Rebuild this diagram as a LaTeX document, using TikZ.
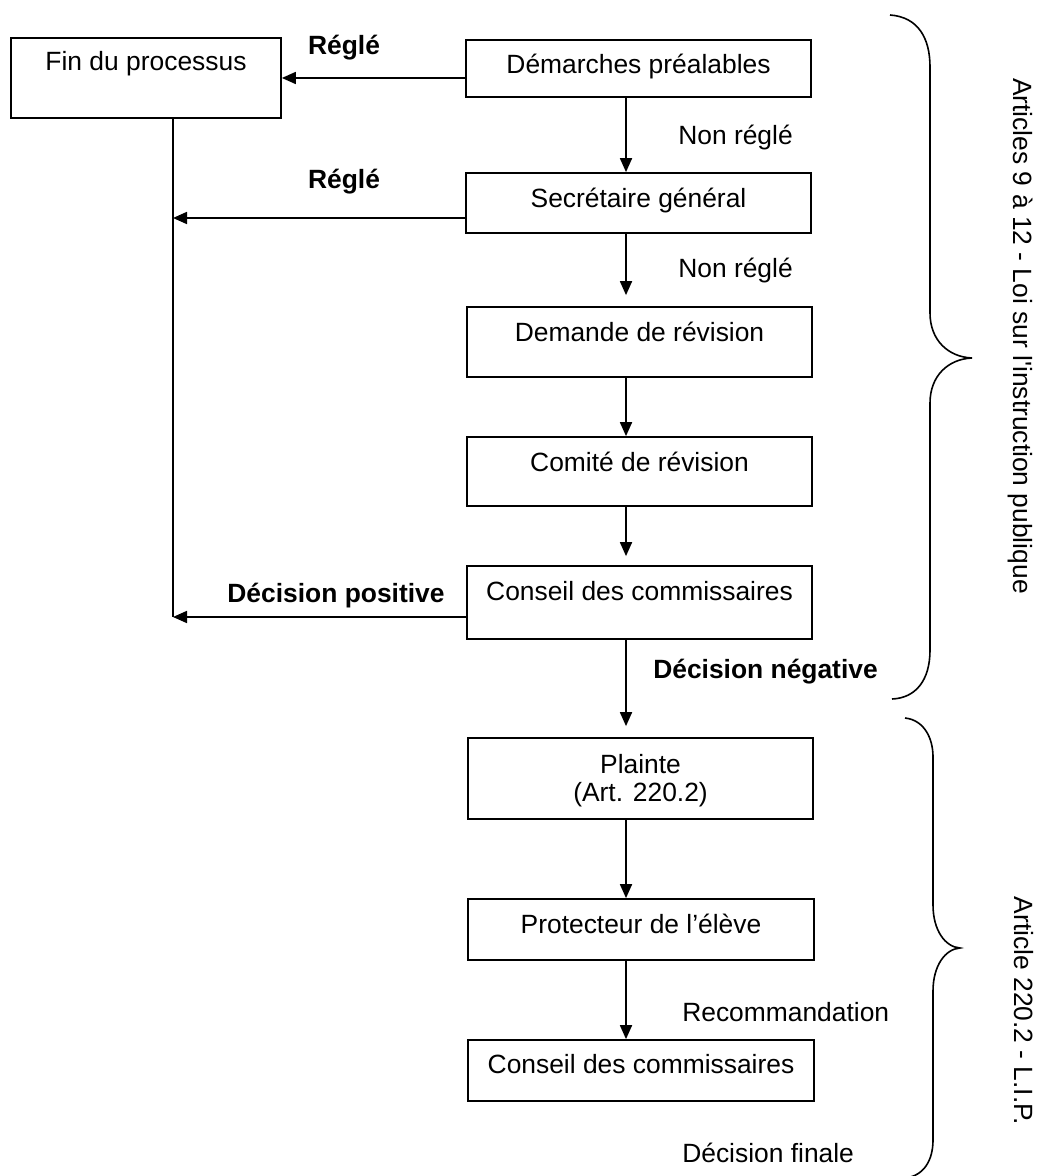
\documentclass[tikz,border=0pt]{standalone}
\usepackage{fontspec}
\newfontfamily\af{Liberation Sans}
\usetikzlibrary{arrows.meta,calc}
\begin{document}
\begin{tikzpicture}[x=0.75pt,y=-0.75pt,
  box/.style={draw, line width=1.3pt, inner sep=0pt, rectangle},
  txt/.style={font=\af\fontsize{19.8}{23}\selectfont, inner sep=0pt, anchor=base},
  btxt/.style={txt, font=\af\bfseries\fontsize{19.8}{23}\selectfont},
  ltxt/.style={txt, anchor=base west},
  arr/.style={line width=1.3pt, -{Triangle[length=10.5pt,width=9pt]}},
  ln/.style={line width=1.3pt},
  brace/.style={line width=1.2pt}]
\useasboundingbox (0,0) rectangle (1045,1176);
\fill[white] (0,0) rectangle (1045,1176);

% boxes
\node[box, minimum width=202.5pt, minimum height=60pt] (fin) at (146,78) {};
\node[box, minimum width=258.75pt, minimum height=42.75pt] (dem) at (638.5,68.5) {};
\node[box, minimum width=258.75pt, minimum height=45pt] (sec) at (638.5,203) {};
\node[box, minimum width=258.75pt, minimum height=52.5pt] (dmd) at (639.5,342) {};
\node[box, minimum width=258.75pt, minimum height=51.75pt] (com) at (639.5,471.5) {};
\node[box, minimum width=258.75pt, minimum height=54.75pt] (cc1) at (639.5,602.5) {};
\node[box, minimum width=258.75pt, minimum height=60.75pt] (pla) at (640.5,778.5) {};
\node[box, minimum width=259.5pt, minimum height=45.75pt] (pro) at (641,929.5) {};
\node[box, minimum width=259.5pt, minimum height=45.75pt] (cc2) at (641,1070.5) {};

% box texts
\node[txt] (tfin) at (146,71) {Fin du processus};
\node[txt] (tdem) at (638.5,74) {Démarches préalables};
\node[txt] (tsec) at (638.5,208) {Secrétaire général};
\node[txt] (tdmd) at (639.5,342) {Demande de révision};
\node[txt] (tcom) at (639.5,471) {Comité de révision};
\node[txt] (tcc1) at (639.5,600) {Conseil des commissaires};
\node[txt] (tpla1) at (640.5,773) {Plainte};
\node[txt] (tpla2) at (640.5,801) {(Art. 220.2)};
\node[txt] (tpro) at (641,933) {Protecteur de l’élève};
\node[txt] (tcc2) at (641,1073) {Conseil des commissaires};

% vertical flow
\coordinate (ax) at (626,0);
\draw[arr] (dem.south -| ax) -- (sec.north -| ax);
\draw[arr, shorten >=8.25pt] (sec.south -| ax) -- (dmd.north -| ax);
\draw[arr] (dmd.south -| ax) -- (com.north -| ax);
\draw[arr, shorten >=6.75pt] (com.south -| ax) -- (cc1.north -| ax);
\draw[arr, shorten >=8.25pt] (cc1.south -| ax) -- (pla.north -| ax);
\draw[arr] (pla.south -| ax) -- (pro.north -| ax);
\draw[arr] (pro.south -| ax) -- (cc2.north -| ax);

% return paths
\coordinate (j1) at (173,218);
\coordinate (j2) at (173,617);
\draw[arr] (dem.west |- fin.east) -- (fin.east);
\draw[ln] (fin.south -| j1) -- (j2);
\draw[arr] (sec.west |- j1) -- (j1);
\draw[arr] (cc1.west |- j2) -- (j2);

% labels
\node[btxt] (r1) at (344,55) {Réglé};
\node[btxt] (r2) at (344,189) {Réglé};
\node[ltxt] (n1) at (678,145) {Non réglé};
\node[ltxt] (n2) at (678,278) {Non réglé};
\node[btxt] (dp) at (336,602) {Décision positive};
\node[btxt, anchor=base west] (dn) at (653,678) {Décision négative};
\node[ltxt] (rec) at (682,1021) {Recommandation};
\node[ltxt] (df) at (682,1162) {Décision finale};

% braces
\draw[brace] (890,15) .. controls (918,17) and (930,38) .. (930,67) -- (930,313)
  .. controls (930,340) and (948,357) .. (972,358)
  .. controls (948,359) and (930,376) .. (930,403) -- (930,650)
  .. controls (930,680) and (916,698) .. (892,699);
\draw[brace] (905,718) .. controls (924,720) and (933,738) .. (933,757) -- (933,905)
  .. controls (933,930) and (945,947) .. (960,948)
  .. controls (945,949) and (933,966) .. (933,991) -- (933,1140)
  .. controls (933,1160) and (924,1176) .. (905,1178);

% side texts
\node[txt, rotate=-90] (s1) at (1013,336) {Articles 9 à 12 - Loi sur l'instruction publique};
\node[txt, rotate=-90] (s2) at (1014,1011) {Article 220.2 - L.I.P.};
\end{tikzpicture}
\end{document}
